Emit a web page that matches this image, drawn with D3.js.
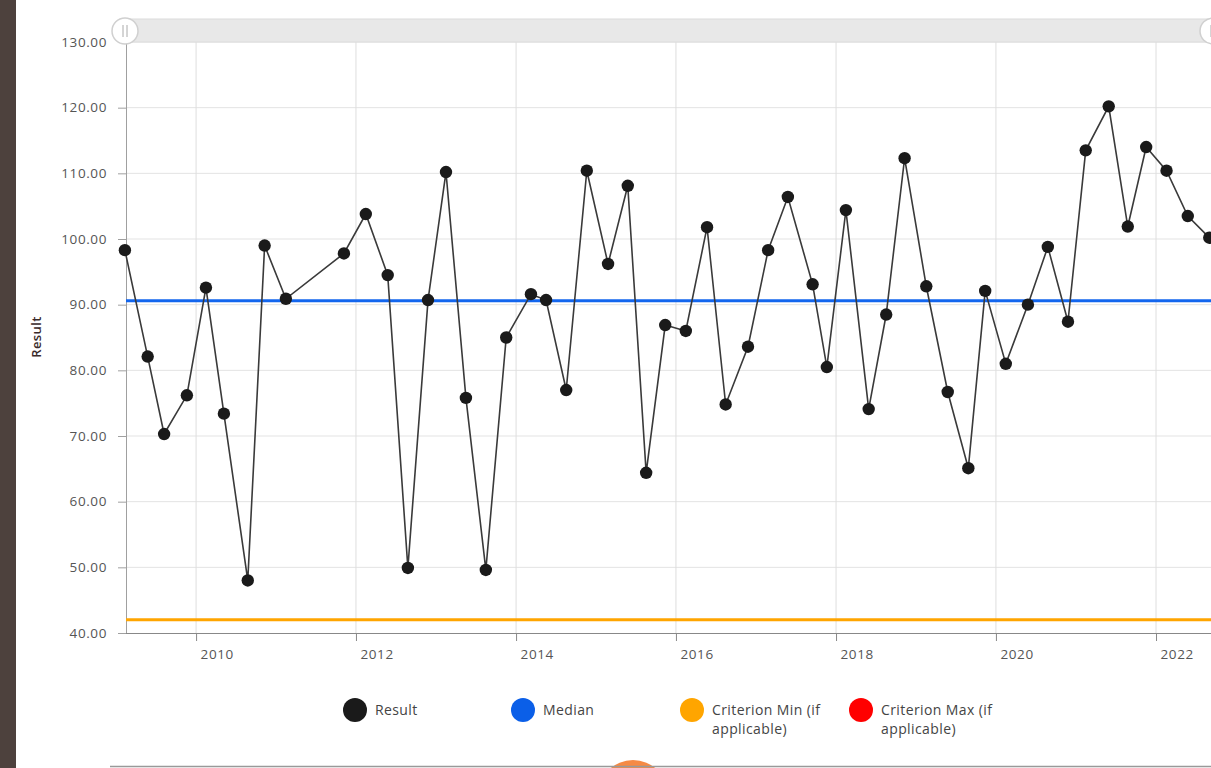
<!DOCTYPE html>
<html>
<head>
<meta charset="utf-8">
<script src="https://cdn.jsdelivr.net/npm/d3@7/dist/d3.min.js"></script>
<style>
  html, body { margin: 0; padding: 0; background: #fff; }
  svg { display: block; }
  text { font-family: "Open Sans", "Noto Sans", sans-serif; }
</style>
</head>
<body>
<svg id="chart" width="1211" height="768"></svg>
<script>
// ---- data ----
const dates = [
  "2009-02-10","2009-05-25","2009-08-08","2009-11-20",
  "2010-02-15","2010-05-08","2010-08-25","2010-11-10",
  "2011-02-15","2011-11-07",
  "2012-02-15","2012-05-25","2012-08-25","2012-11-25",
  "2013-02-15","2013-05-17","2013-08-16","2013-11-17",
  "2014-03-10","2014-05-18","2014-08-18","2014-11-20",
  "2015-02-25","2015-05-26","2015-08-18","2015-11-13",
  "2016-02-15","2016-05-22","2016-08-15","2016-11-25",
  "2017-02-25","2017-05-26","2017-09-16","2017-11-20",
  "2018-02-15","2018-05-30","2018-08-18","2018-11-10",
  "2019-02-17","2019-05-26","2019-08-28","2019-11-13",
  "2020-02-15","2020-05-26","2020-08-25","2020-11-25",
  "2021-02-14","2021-05-30","2021-08-25","2021-11-17",
  "2022-02-18","2022-05-26","2022-09-01"
];
const results = [
  98.3, 82.1, 70.3, 76.2,
  92.6, 73.4, 48.0, 99.0,
  90.9, 97.8,
  103.8, 94.5, 49.9, 90.7,
  110.2, 75.8, 49.6, 85.0,
  91.6, 90.7, 77.0, 110.4,
  96.2, 108.1, 64.4, 86.9,
  86.0, 101.8, 74.8, 83.6,
  98.3, 106.4, 93.1, 80.5,
  104.4, 74.1, 88.5, 112.3,
  92.8, 76.7, 65.1, 92.1,
  81.0, 90.0, 98.8, 87.4,
  113.5, 120.2, 101.9, 114.0,
  110.4, 103.5, 100.2
];
const medianValue = 90.6;
const criterionMin = 42.0;
const yTicks = [40, 50, 60, 70, 80, 90, 100, 110, 120, 130];
const xTickYears = [2010, 2012, 2014, 2016, 2018, 2020, 2022];
const xDomain = ["2009-02-15", "2022-09-09"];
const legendItems = [
  { label: ["Result"], color: "#1a1a1a" },
  { label: ["Median"], color: "#0b5fe8" },
  { label: ["Criterion Min (if", "applicable)"], color: "#ffa500" },
  { label: ["Criterion Max (if", "applicable)"], color: "#ff0000" }
];

// ---- layout ----
const parse = d3.timeParse("%Y-%m-%d");
const svg = d3.select("#chart");
const pLeft = 126, pRight = 1211, pTop = 42, pBottom = 633;

const x = d3.scaleTime().domain(xDomain.map(parse)).range([pLeft, pRight]);
const y = d3.scaleLinear().domain([40, 130]).range([pBottom, pTop]);

// left brown strip
svg.append("rect").attr("x", 0).attr("y", 0).attr("width", 16).attr("height", 768).attr("fill", "#4d413d");

// grid
const grid = svg.append("g");
grid.selectAll("line.h").data(yTicks.slice(1)).join("line")
  .attr("x1", pLeft).attr("x2", pRight)
  .attr("y1", d => y(d)).attr("y2", d => y(d))
  .attr("stroke", "#e3e3e3").attr("stroke-width", 1);
grid.selectAll("line.v").data(xTickYears).join("line")
  .attr("x1", d => x(new Date(d, 0, 1))).attr("x2", d => x(new Date(d, 0, 1)))
  .attr("y1", pTop).attr("y2", pBottom)
  .attr("stroke", "#dedede").attr("stroke-width", 1);

// axes
const yAxis = d3.axisLeft(y).tickValues(yTicks).tickSize(8).tickPadding(11).tickFormat(d3.format(".2f"));
const gy = svg.append("g").attr("transform", `translate(${pLeft},0)`).call(yAxis);
gy.select(".domain").attr("stroke", "#a0a0a0");
gy.selectAll(".tick line").attr("stroke", "#a0a0a0");
gy.selectAll(".tick text").attr("fill", "#555").style("font-size", "13.5px").style("letter-spacing", "0.6px");

const xAxis = d3.axisBottom(x).tickValues(xTickYears.map(yv => new Date(yv, 0, 1)))
  .tickSize(8).tickPadding(8).tickFormat(d3.timeFormat("%Y"));
const gx = svg.append("g").attr("transform", `translate(0,${pBottom})`).call(xAxis);
gx.select(".domain").attr("stroke", "#888").attr("d", `M${pLeft},0.5H${pRight}`);
gx.selectAll(".tick line").attr("stroke", "#888");
gx.selectAll(".tick text").attr("fill", "#555").style("font-size", "13.5px").style("letter-spacing", "0.6px")
  .attr("text-anchor", "start").attr("dx", 4);

// y title
svg.append("text").attr("transform", "translate(41,337) rotate(-90)")
  .attr("text-anchor", "middle").attr("fill", "#3a2a2a")
  .style("font-size", "13px").style("font-weight", "600").style("letter-spacing", "0.4px").text("Result");

// reference lines
svg.append("line").attr("x1", pLeft).attr("x2", pRight)
  .attr("y1", y(criterionMin)).attr("y2", y(criterionMin))
  .attr("stroke", "#ffa500").attr("stroke-width", 3);
svg.append("line").attr("x1", pLeft).attr("x2", pRight)
  .attr("y1", y(medianValue)).attr("y2", y(medianValue))
  .attr("stroke", "#1366ee").attr("stroke-width", 3);

// result series
const pts = dates.map((d, i) => ({ date: parse(d), value: results[i] }));
svg.append("path").datum(pts)
  .attr("fill", "none").attr("stroke", "#3a3a3a").attr("stroke-width", 1.6)
  .attr("d", d3.line().x(d => x(d.date)).y(d => y(d.value)));
svg.append("g").selectAll("circle").data(pts).join("circle")
  .attr("cx", d => x(d.date)).attr("cy", d => y(d.value)).attr("r", 6.2)
  .attr("fill", "#1a1a1a");

// scrollbar
svg.append("rect").attr("x", 120).attr("y", 19).attr("width", 1100).attr("height", 23)
  .attr("fill", "#e8e8e8").attr("stroke", "#dcdcdc");
[125, 1213].forEach(cx => {
  svg.append("circle").attr("cx", cx).attr("cy", 31).attr("r", 13)
    .attr("fill", "#fff").attr("stroke", "#d0d0d0").attr("stroke-width", 1.5);
  svg.append("line").attr("x1", cx - 2).attr("x2", cx - 2).attr("y1", 25).attr("y2", 37).attr("stroke", "#aaa");
  svg.append("line").attr("x1", cx + 2).attr("x2", cx + 2).attr("y1", 25).attr("y2", 37).attr("stroke", "#aaa");
});

// legend
const legendX = [355, 523, 692, 861];
const lg = svg.append("g");
legendItems.forEach((it, i) => {
  const cx = legendX[i];
  lg.append("circle").attr("cx", cx).attr("cy", 710).attr("r", 12).attr("fill", it.color);
  const t = lg.append("text").attr("x", cx + 20).attr("y", 715)
    .attr("fill", "#444").style("font-size", "14px").style("letter-spacing", "0.4px");
  it.label.forEach((s, j) => {
    t.append("tspan").attr("x", cx + 20).attr("dy", j === 0 ? 0 : 19).text(s);
  });
});

// bottom separator and orange bubble
svg.append("circle").attr("cx", 633).attr("cy", 795).attr("r", 35).attr("fill", "#f58a45");
svg.append("line").attr("x1", 110).attr("x2", 1211).attr("y1", 766.5).attr("y2", 766.5)
  .attr("stroke", "#999").attr("stroke-width", 1.5);
</script>
</body>
</html>
